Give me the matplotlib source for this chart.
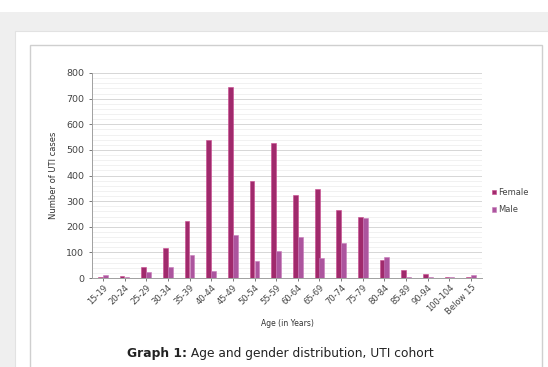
import numpy as np
import matplotlib
matplotlib.use('Agg')
import matplotlib.pyplot as plt
from matplotlib.patches import Rectangle

# age groups and UTI case counts
age_groups = ['15-19', '20-24', '25-29', '30-34', '35-39', '40-44', '45-49',
              '50-54', '55-59', '60-64', '65-69', '70-74', '75-79', '80-84',
              '85-89', '90-94', '100-104', 'Below 15']
female = [3, 8, 44, 117, 224, 538, 745, 377, 526, 323, 349, 264, 240, 70,
          32, 15, 4, 5]
male = [12, 3, 22, 43, 90, 28, 167, 68, 105, 160, 80, 135, 236, 82,
        3, 3, 4, 10]

W, H = 548, 367
fig = plt.figure(figsize=(W / 100, H / 100), dpi=100, facecolor='white')

def box(x0, y0, x1, y1, fc, ec='none', lw=0.8):
    # rectangle in pixel coords (y measured from top)
    r = Rectangle((x0 / W, 1 - y1 / H), (x1 - x0) / W, (y1 - y0) / H,
                  transform=fig.transFigure, facecolor=fc, edgecolor=ec,
                  linewidth=lw, zorder=-10)
    fig.patches.append(r)

# page background, card and inner frame
box(0, 12, W, H + 2, '#efefef')
box(15, 31, W + 2, H + 2, 'white', '#e2e2e2')
box(30, 45, 542, H + 2, 'white', '#cfcfcf', 1.0)

ax = fig.add_axes([92 / W, 1 - 278 / H, (482 - 92) / W, (278 - 73) / H])
ax.set_facecolor('none')

x = np.arange(len(age_groups))
w = 0.22
ax.bar(x - w / 2, female, w, color='#a02a6c', edgecolor='#c8478f',
       linewidth=0.4, label='Female', zorder=3)
ax.bar(x + w / 2, male, w, color='#ac559e', edgecolor='#c87cba',
       linewidth=0.4, label='Male', zorder=3)

ax.set_xlim(-0.5, len(age_groups) - 0.5)
ax.set_ylim(0, 800)
ax.set_yticks(np.arange(0, 801, 100))
ax.set_yticks(np.arange(0, 801, 20), minor=True)
ax.grid(axis='y', which='major', color='#d6d6d6', linewidth=0.7, zorder=0)
ax.grid(axis='y', which='minor', color='#ececec', linewidth=0.5, zorder=0)
ax.set_axisbelow(True)

for s in ['top', 'right']:
    ax.spines[s].set_visible(False)
for s in ['left', 'bottom']:
    ax.spines[s].set_color('#a0a0a0')
    ax.spines[s].set_linewidth(0.7)

ax.set_xticks(x)
ax.set_xticklabels(age_groups, rotation=45, ha='right', rotation_mode='anchor',
                   fontsize=6, color='#444444')
ax.tick_params(axis='y', labelsize=6.8, colors='#444444', length=2,
               width=0.5, which='major')
ax.tick_params(axis='y', which='minor', length=0)
ax.tick_params(axis='x', length=2, width=0.5, colors='#444444', pad=1.5)

ax.set_ylabel('Number of UTI cases', fontsize=6, color='#333333', labelpad=6)
ax.set_xlabel('Age (in Years)', fontsize=5.5, color='#333333', labelpad=2)

fig.legend(loc='center left', bbox_to_anchor=(484 / W, 1 - 201 / H),
           fontsize=6, frameon=False, handlelength=0.5, handleheight=0.5,
           handletextpad=0.3, labelspacing=1.0, labelcolor='#444444')

# caption with bold prefix
t1 = fig.text(127 / W, 1 - 353 / H, 'Graph 1:', fontsize=8.8,
              fontweight='bold', color='#222222', va='center', ha='left')
ax.annotate(' Age and gender distribution, UTI cohort', xy=(1, 0.5),
            xycoords=t1, va='center', ha='left', fontsize=8.8,
            color='#222222', annotation_clip=False)

fig.savefig('out.png', dpi=100, facecolor=fig.get_facecolor())
